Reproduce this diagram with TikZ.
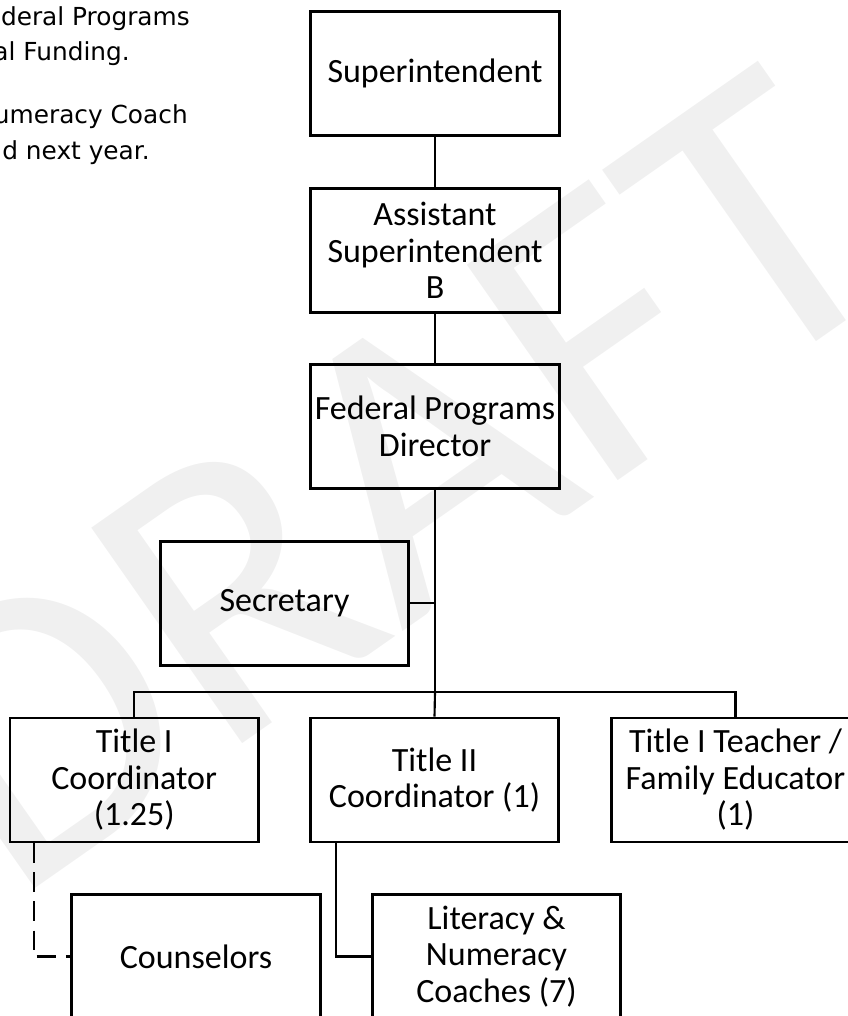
\documentclass[tikz,border=0pt]{standalone}
\usepackage{fontspec}
\setmainfont{Carlito}
\newfontfamily\notefont{DejaVu Sans}
\definecolor{wmgray}{HTML}{F0F0F0}
\begin{document}
\begin{tikzpicture}[x=0.75pt,y=-0.75pt,
  orgbox/.style={draw, line width=1.95pt, minimum width=186.4pt, minimum height=93pt,
    inner sep=0pt, align=center, font=\fontsize{25.5pt}{27.4pt}\selectfont},
  link/.style={line width=1.6pt},
  trunk/.style={line width=2.2pt},
  dotlink/.style={link, dash pattern=on 14.6pt off 7.2pt},
  note/.style={anchor=base east, inner sep=0pt, font=\notefont\fontsize{18.6pt}{22pt}\selectfont},
  watermark/.style={text=wmgray, rotate=35, anchor=base west, inner sep=0pt,
    font=\fontsize{307.5pt}{307.5pt}\selectfont}]
\useasboundingbox (0,0) rectangle (848,1016);
\clip (0,0) rectangle (848,1016);

% background watermark
\node[watermark] (wm) at (12,905) {DRAFT};

% side notes
\node[note] (n1) at (190,26) {deral Programs};
\node[note] (n2) at (130,61) {al Funding.};
\node[note] (n3) at (188,123.5) {umeracy Coach};
\node[note] (n4) at (150,160) {d next year.};

% positions
\node[orgbox] (sup) at (435,73.4) {Superintendent};
\node[orgbox] (asst) at (435,250.5) {Assistant\\Superintendent\\B};
\node[orgbox] (fed) at (435,426.3) {Federal Programs\\Director};
\node[orgbox] (sec) at (284.5,603.3) {Secretary};
\node[orgbox] (t1) at (134.2,780) {Title I\\Coordinator\\(1.25)};
\node[orgbox] (t2) at (434.5,780) {Title II\\Coordinator (1)};
\node[orgbox] (t1t) at (735.5,780) {Title I Teacher /\\Family Educator\\(1)};
\node[orgbox] (couns) at (196,956.5) {Counselors};
\node[orgbox] (lit) at (496.5,956.5) {Literacy \&\\Numeracy\\Coaches (7)};

% reporting lines
\coordinate (hub) at (435,692);
\draw[link] (sup) -- (asst);
\draw[link] (asst) -- (fed);
\draw[trunk] (fed) -- (hub);
\draw[link] (sec.east) -- (sec.east -| hub);
\draw[link] (t1.north) |- (hub) -| (t1t.north);
\draw[link] (hub) -- (t2.north);
\draw[dotlink] ([xshift=18.75pt]t1.south west) |- (couns.west);
\draw[link] ([xshift=20.25pt]t2.south west) |- (lit.west);
\end{tikzpicture}
\end{document}
